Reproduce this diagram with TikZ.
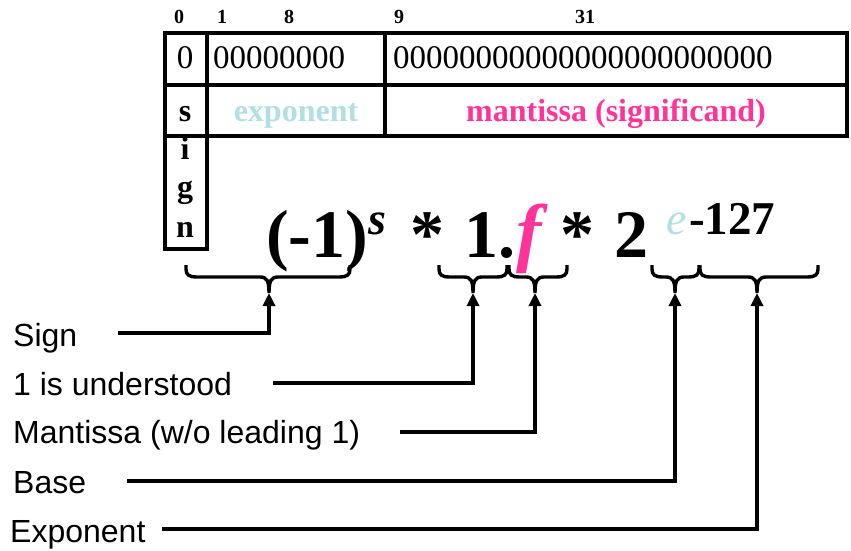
\documentclass[tikz,border=0pt]{standalone}
\usepackage{fontspec}
\setmainfont{Liberation Serif}
\newfontfamily\arialfont{Liberation Sans}
\usetikzlibrary{arrows.meta}
\definecolor{pblue}{RGB}{176,224,230}
\definecolor{hpink}{RGB}{255,51,153}
\newcommand\fsz[1]{\fontsize{#1}{#1}\selectfont}
\newcommand\mybrace[4]{%
  \draw[brc] ({#1},265) -- ({#1},269) .. controls ({#1},275) and ({#1+3},277) .. ({#1+11},277)
    -- ({#3-9},277) .. controls ({#3-2},277) and ({#3},281) .. ({#3},293)
    .. controls ({#3},281) and ({#3+2},277) .. ({#3+9},277)
    -- ({#2-11},277) .. controls ({#2-3},277) and ({#2},275) .. ({#2},269) -- ({#2},265);
  \coordinate (#4) at ({#3},293);}
\begin{document}
\begin{tikzpicture}[x=1pt,y=-1pt,
  tbl/.style={line width=3.6pt},
  brc/.style={line width=3.4pt},
  conn/.style={line width=3.6pt,-{Triangle[length=13pt,width=12pt]}},
  lbl/.style={anchor=base west,inner sep=0pt,font=\arialfont\fsz{32}},
  idx/.style={anchor=base,inner sep=0pt,font=\bfseries\fsz{20}},
  bits/.style={anchor=base west,inner sep=0pt,font=\fsz{33}},
  fld/.style={anchor=base,inner sep=0pt,font=\bfseries\fsz{32}},
  big/.style={anchor=base west,inner sep=0pt,font=\bfseries\fsz{68}},
  sup/.style={anchor=base west,inner sep=0pt,font=\bfseries\itshape\fsz{46}}]
\useasboundingbox (0,0) rectangle (851,551);
% bit indices
\node[idx] (i0) at (179,24) {0};
\node[idx] (i1) at (222,24) {1};
\node[idx] (i8) at (289,24) {8};
\node[idx] (i9) at (399,24) {9};
\node[idx] (i31) at (585,24) {31};
% table
\draw[tbl] (165,33) rectangle (847,136);
\draw[tbl] (165,33) rectangle (207,249);
\draw[tbl] (165,85) -- (847,85);
\draw[tbl] (385,33) -- (385,136);
\node[anchor=base,inner sep=0pt,font=\fsz{33}] (b0) at (185,68) {0};
\node[bits] (be) at (213,68) {00000000};
\node[bits] (bm) at (393,68) {00000000000000000000000};
\node[fld] (ls) at (185,121) {s};
\node[fld] (li) at (185,159) {i};
\node[fld] (lg) at (185,197) {g};
\node[fld] (ln) at (185,237) {n};
\node[fld,text=pblue] (fe) at (296,121) {exponent};
\node[fld,text=hpink] (fm) at (616,121) {mantissa (significand)};
% formula
\node[big] (p1) at (266,257) {(-1)};
\node[sup] (ps) at (368,234) {s};
\node[big,anchor=base] (st1) at (427,257) {*};
\node[big] (one) at (464,257) {1.};
\node[big,font=\bfseries\itshape\fsz{76},text=hpink] (ff) at (516,257) {f};
\node[big,anchor=base] (st2) at (577,257) {*};
\node[big,anchor=base] (two) at (631,257) {2};
\node[sup,text=pblue,font=\itshape\fsz{46}] (pe) at (666,234) {e};
\node[anchor=base west,inner sep=0pt,font=\bfseries\fsz{47}] (pexp) at (689,234) {-127};
% braces
\mybrace{186}{350}{269}{t1}
\mybrace{439}{507}{473}{t2}
\mybrace{509}{567}{535}{t3}
\mybrace{652}{699}{675}{t4}
\mybrace{700}{818}{757}{t5}
% labels
\node[lbl] (lsign) at (13,346) {Sign};
\node[lbl] (lund) at (13,395) {1 is understood};
\node[lbl] (lman) at (13,443) {Mantissa (w/o leading 1)};
\node[lbl] (lbase) at (13,493) {Base};
\node[lbl] (lexp) at (10,542) {Exponent};
\coordinate (c1) at (118,333);
\coordinate (c2) at (273,383);
\coordinate (c3) at (400,432);
\coordinate (c4) at (127,481);
\coordinate (c5) at (162,529);
\draw[conn] (c1) -| (t1);
\draw[conn] (c2) -| (t2);
\draw[conn] (c3) -| (t3);
\draw[conn] (c4) -| (t4);
\draw[conn] (c5) -| (t5);
\end{tikzpicture}
\end{document}
